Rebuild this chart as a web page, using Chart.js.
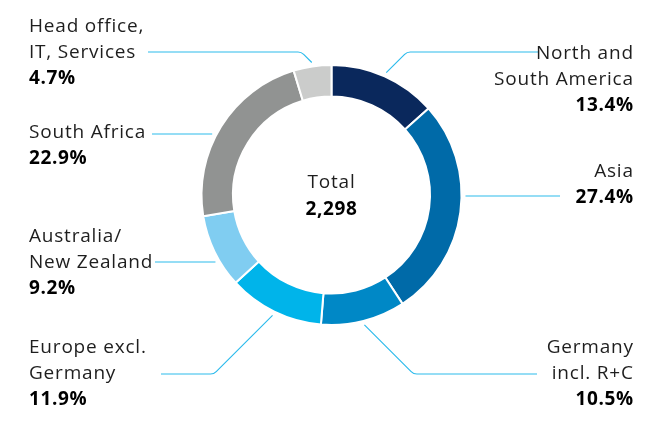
<!DOCTYPE html>
<html>
<head>
<meta charset="utf-8">
<script src="https://cdn.jsdelivr.net/npm/chart.js@4"></script>
<style>
  html,body{margin:0;padding:0;background:#fff;}
  #wrap{width:672px;height:423px;position:relative;}
</style>
</head>
<body>
<div id="wrap"><canvas id="chart" width="672" height="423"></canvas></div>
<script>
// === DATA ===
const regions = ['North and South America','Asia','Germany incl. R+C','Europe excl. Germany','Australia/New Zealand','South Africa','Head office, IT, Services'];
const shares  = [13.4, 27.4, 10.5, 11.9, 9.2, 22.9, 4.7];
const labelLines = [
  ['North and','South America'],
  ['Asia'],
  ['Germany','incl. R+C'],
  ['Europe excl.','Germany'],
  ['Australia/','New Zealand'],
  ['South Africa'],
  ['Head office,','IT, Services']
];
const colors = ['#0a285c','#006aa8','#0088c6','#00b4ea','#80cdf1','#919392','#cbcccb'];
const totalLabel = 'Total';
const totalValue = '2,298';

// posicion de etiquetas (x texto, baseline 1ra linea, y de la linea guia, x final de la guia, modo)
const layout = [
  {side:'r', x:633, y0:59,  ly:52,  lx:538, mode:'d'},
  {side:'r', x:633, y0:177, ly:196, lx:560, mode:'h'},
  {side:'r', x:633, y0:353, ly:374, lx:537, mode:'d'},
  {side:'l', x:29,  y0:353, ly:374, lx:161, mode:'d'},
  {side:'l', x:29,  y0:242, ly:262, lx:155, mode:'h'},
  {side:'l', x:29,  y0:138, ly:134, lx:152, mode:'h'},
  {side:'l', x:29,  y0:32,  ly:52,  lx:148, mode:'d'}
];
const LH = 26;
const FONT = '"Open Sans", sans-serif';

function regular(ctx){ ctx.fillStyle='#1e1e1e'; ctx.font='19px '+FONT; ctx.letterSpacing='0.8px'; }
function bold(ctx){ ctx.fillStyle='#000'; ctx.font='bold 19px '+FONT; ctx.letterSpacing='0.6px'; }

// Plugin: etiquetas con lineas guia + total al centro
const labelsPlugin = {
  id:'labels',
  afterDraw(chart){
    const ctx = chart.ctx;
    const meta = chart.getDatasetMeta(0);
    ctx.save();
    meta.data.forEach((arc, i)=>{
      const L = layout[i];
      const cx = arc.x, cy = arc.y, r = arc.outerRadius + 4;
      // linea guia
      ctx.strokeStyle = '#2dbbec';
      ctx.lineWidth = 1.2;
      ctx.beginPath();
      if (L.mode === 'h'){
        const dy = L.ly - cy;
        const dx = Math.sqrt(Math.max(r*r - dy*dy, 0));
        const sx = L.side === 'r' ? cx + dx : cx - dx;
        ctx.moveTo(sx, L.ly);
        ctx.lineTo(L.lx, L.ly);
      } else {
        const mid = (arc.startAngle + arc.endAngle)/2;
        const sx = cx + r*Math.cos(mid), sy = cy + r*Math.sin(mid);
        const d = Math.abs(L.ly - sy);
        const kx = sx + (L.side === 'r' ? d : -d);
        ctx.moveTo(sx, sy);
        ctx.arcTo(kx, L.ly, L.lx, L.ly, 8);
        ctx.lineTo(L.lx, L.ly);
      }
      ctx.stroke();

      // texto (con letterSpacing el ultimo espacio empuja a la derecha)
      const right = L.side === 'r';
      ctx.textAlign = right ? 'right' : 'left';
      ctx.textBaseline = 'alphabetic';
      regular(ctx);
      const lines = labelLines[i];
      lines.forEach((t, k)=> ctx.fillText(t, L.x + (right ? 0.8 : 0), L.y0 + k*LH));
      bold(ctx);
      ctx.fillText(shares[i].toFixed(1) + '%', L.x + (right ? 0.6 : 0), L.y0 + lines.length*LH);
    });
    // total
    const a0 = meta.data[0];
    ctx.textAlign = 'center';
    regular(ctx);
    ctx.fillText(totalLabel, a0.x, 188);
    bold(ctx);
    ctx.fillText(totalValue, a0.x, 215);
    ctx.restore();
  }
};

new Chart(document.getElementById('chart'), {
  type:'doughnut',
  data:{
    labels: regions,
    datasets:[{
      data: shares,
      backgroundColor: colors,
      borderColor:'#fff',
      borderWidth:2,
      hoverOffset:0
    }]
  },
  options:{
    responsive:false,
    animation:false,
    radius:130,
    cutout:97,
    layout:{ padding:{ left:202, right:211, top:66, bottom:99 } },
    plugins:{ legend:{ display:false }, tooltip:{ enabled:false } }
  },
  plugins:[labelsPlugin]
});
</script>
</body>
</html>
